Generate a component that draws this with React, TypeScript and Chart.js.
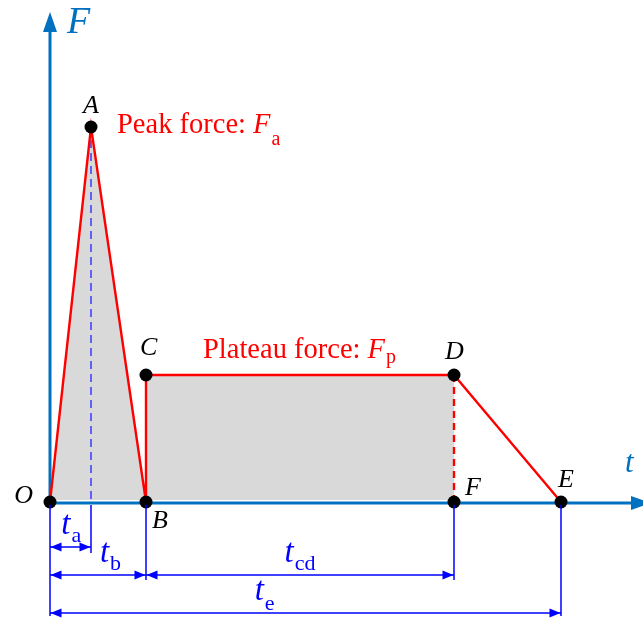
import React, { useEffect, useRef } from "react";
import { Chart, registerables } from "chart.js";

Chart.register(...registerables);

// Key instants (time) and force levels of the idealised force–time profile
const T_A = 0.41;
const T_B = 0.96;
const T_D = 4.04;
const T_E = 5.11;
const F_A = 3.75;
const F_P = 1.27;

const POINT_NAMES = ["O", "A", "B", "C", "D", "F", "E"];
const POINT_T = [0, T_A, T_B, T_B, T_D, T_D, T_E];
const POINT_F = [0, F_A, 0, F_P, F_P, 0, 0];

const PROFILE = ["O", "A", "B", "C", "D", "E"];
const PEAK_SHADE = ["O", "A", "B"];
const PLATEAU_SHADE = ["C", "D"];

const DIM_SUBS = ["a", "b", "cd", "e"];
const DIM_FROM = [0, 0, T_B, 0];
const DIM_TO = [T_A, T_B, T_D, T_E];

const pt = (n: string) => {
  const i = POINT_NAMES.indexOf(n);
  return { x: POINT_T[i], y: POINT_F[i] };
};

const SERIF = '"Liberation Serif", "Times New Roman", serif';
const AXIS_BLUE = "#0070C0";
const DIM_BLUE = "#0000FF";
const RED = "#FF0000";

function arrow(ctx: CanvasRenderingContext2D, tx: number, ty: number, dx: number, dy: number, len: number, hw: number) {
  const bx = tx - dx * len;
  const by = ty - dy * len;
  ctx.beginPath();
  ctx.moveTo(tx, ty);
  ctx.lineTo(bx - dy * hw, by + dx * hw);
  ctx.lineTo(bx + dy * hw, by - dx * hw);
  ctx.closePath();
  ctx.fill();
}

const decorPlugin = {
  id: "decor",
  beforeDatasetsDraw(chart: any) {
    const ctx: CanvasRenderingContext2D = chart.ctx;
    const xs = chart.scales.x;
    const ys = chart.scales.y;
    const x0 = xs.getPixelForValue(0);
    const y0 = ys.getPixelForValue(0);
    ctx.save();
    ctx.strokeStyle = AXIS_BLUE;
    ctx.fillStyle = AXIS_BLUE;
    ctx.lineWidth = 3;
    // y axis
    ctx.beginPath();
    ctx.moveTo(x0, y0 + 1);
    ctx.lineTo(x0, 30);
    ctx.stroke();
    arrow(ctx, x0, 12, 0, -1, 20, 7);
    // x axis
    ctx.beginPath();
    ctx.moveTo(x0 - 2, y0 + 1);
    ctx.lineTo(635, y0 + 1);
    ctx.stroke();
    arrow(ctx, 651, y0 + 1, 1, 0, 20, 7);
    ctx.restore();
  },
  afterDatasetsDraw(chart: any) {
    const ctx: CanvasRenderingContext2D = chart.ctx;
    const xs = chart.scales.x;
    const ys = chart.scales.y;
    const X = (v: number) => xs.getPixelForValue(v);
    const Y = (v: number) => ys.getPixelForValue(v);
    const y0 = Y(0);
    ctx.save();

    // axis labels
    ctx.fillStyle = AXIS_BLUE;
    ctx.font = `italic 38px ${SERIF}`;
    ctx.textBaseline = "alphabetic";
    ctx.textAlign = "left";
    ctx.fillText("F", X(0) + 17, 33);
    ctx.font = `italic 31px ${SERIF}`;
    ctx.fillText("t", 625, y0 - 30);

    // point letters
    const off: Record<string, [number, number, CanvasTextAlign]> = {
      O: [-17, 1, "right"],
      A: [0, -14, "center"],
      B: [6, 26, "left"],
      C: [-6, -20, "left"],
      D: [-9, -16, "left"],
      F: [11, -7, "left"],
      E: [-3, -15, "left"],
    };
    ctx.fillStyle = "#000";
    ctx.font = `italic 26px ${SERIF}`;
    POINT_NAMES.forEach((n, i) => {
      const [dx, dy, al] = off[n];
      ctx.textAlign = al;
      ctx.fillText(n, X(POINT_T[i]) + dx, Y(POINT_F[i]) + dy);
    });

    // force annotations
    const label = (x: number, y: number, main: string, sym: string, sub: string, subDy: number) => {
      ctx.fillStyle = RED;
      ctx.textAlign = "left";
      ctx.font = `28.5px ${SERIF}`;
      ctx.fillText(main, x, y);
      let cx = x + ctx.measureText(main).width;
      ctx.font = `italic 28.5px ${SERIF}`;
      ctx.fillText(sym, cx, y);
      cx += ctx.measureText(sym).width + 1;
      ctx.font = `20px ${SERIF}`;
      ctx.fillText(sub, cx, y + subDy);
    };
    label(X(T_A) + 26, Y(F_A) + 6, "Peak force: ", "F", "a", 12);
    label(X(T_B) + 57, Y(F_P) - 17, "Plateau force: ", "F", "p", 5);

    // dimension lines
    const levels = [45, 73, 73, 111];
    const labelFrac = [0.52, 0.63, 0.5, 0.42];
    ctx.strokeStyle = DIM_BLUE;
    ctx.fillStyle = DIM_BLUE;
    ctx.lineWidth = 1.5;
    // extension lines
    const ext: [number, number][] = [
      [0, 114],
      [T_A, 51],
      [T_B, 78],
      [T_D, 78],
      [T_E, 114],
    ];
    ext.forEach(([t, d]) => {
      ctx.beginPath();
      ctx.moveTo(X(t), y0 + 3);
      ctx.lineTo(X(t), y0 + d);
      ctx.stroke();
    });
    DIM_SUBS.forEach((sub, i) => {
      const a = X(DIM_FROM[i]);
      const b = X(DIM_TO[i]);
      const ly = y0 + levels[i];
      ctx.beginPath();
      ctx.moveTo(a, ly);
      ctx.lineTo(b, ly);
      ctx.stroke();
      arrow(ctx, a + 0.5, ly, -1, 0, 11, 4.5);
      arrow(ctx, b - 0.5, ly, 1, 0, 11, 4.5);
      // label t_sub
      ctx.font = `italic 33px ${SERIF}`;
      const tw = ctx.measureText("t").width;
      ctx.font = `22px ${SERIF}`;
      const sw = ctx.measureText(sub).width;
      const total = tw + sw + 1;
      const cx = a + (b - a) * labelFrac[i] - total / 2;
      ctx.textAlign = "left";
      ctx.font = `italic 33px ${SERIF}`;
      ctx.fillText("t", cx, ly - 13);
      ctx.font = `22px ${SERIF}`;
      ctx.fillText(sub, cx + tw + 1, ly - (i === 3 ? 3 : 5));
    });
    ctx.restore();
  },
};

export default function App() {
  const ref = useRef<HTMLCanvasElement>(null);
  useEffect(() => {
    if (!ref.current) return;
    const chart = new Chart(ref.current, {
      type: "scatter",
      data: {
        datasets: [
          {
            label: "peakShade",
            data: PEAK_SHADE.map(pt),
            showLine: true,
            borderWidth: 0,
            pointRadius: 0,
            backgroundColor: "#D9D9D9",
            fill: { value: 0.02 },
            order: 10,
            clip: false,
          } as any,
          {
            label: "plateauShade",
            data: PLATEAU_SHADE.map(pt),
            showLine: true,
            borderWidth: 0,
            pointRadius: 0,
            backgroundColor: "#D9D9D9",
            fill: { value: 0.02 },
            order: 9,
            clip: false,
          } as any,
          {
            label: "peakGuide",
            data: [pt("A"), { x: T_A, y: 0 }],
            showLine: true,
            borderColor: "#3A3AFF",
            borderWidth: 1.5,
            borderDash: [8, 5],
            pointRadius: 0,
            order: 8,
            clip: false,
          } as any,
          {
            label: "profile",
            data: PROFILE.map(pt),
            showLine: true,
            borderColor: RED,
            borderWidth: 2.4,
            pointRadius: 0,
            order: 5,
            clip: false,
          } as any,
          {
            label: "plateauEnd",
            data: [pt("D"), pt("F")],
            showLine: true,
            borderColor: RED,
            borderWidth: 2.4,
            borderDash: [7, 5],
            pointRadius: 0,
            order: 4,
            clip: false,
          } as any,
          {
            label: "points",
            data: POINT_NAMES.map(pt),
            showLine: false,
            pointRadius: 6.5,
            pointBackgroundColor: "#000",
            pointBorderWidth: 0,
            order: 1,
            clip: false,
          } as any,
        ],
      },
      options: {
        animation: false,
        responsive: false,
        devicePixelRatio: 1,
        events: [],
        layout: { padding: 0, autoPadding: false },
        plugins: { legend: { display: false }, tooltip: { enabled: false } },
        scales: {
          x: { type: "linear", min: -0.5, max: 5.93, display: false },
          y: { type: "linear", min: -1.19, max: 5.02, display: false },
        },
      },
      plugins: [decorPlugin],
    });
    return () => chart.destroy();
  }, []);
  return (
    <div style={{ position: "absolute", left: 0, top: 0, width: 643, height: 621, background: "#fff" }}>
      <canvas ref={ref} width={643} height={621} style={{ width: 643, height: 621 }} />
    </div>
  );
}
